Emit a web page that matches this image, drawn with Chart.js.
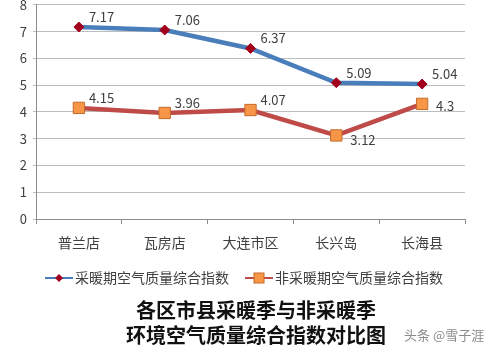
<!DOCTYPE html>
<html>
<head>
<meta charset="utf-8">
<script src="https://cdn.jsdelivr.net/npm/chart.js@4/dist/chart.umd.min.js"></script>
<style>
  html, body { margin: 0; padding: 0; background: #fff; }
  #wrap { position: relative; width: 500px; height: 352px; overflow: hidden; }
  #myChart { position: absolute; left: 0; top: -9px; }
  #mark { position: absolute; left: 404px; top: 325px; font: 13px "Noto Sans CJK SC"; color: #8a8a8a; }
</style>
</head>
<body>
<div id="wrap">
  <canvas id="myChart" width="500" height="361"></canvas>
  <div id="mark">头条 @雪子涯</div>
</div>
<script>
var categories = ['普兰店', '瓦房店', '大连市区', '长兴岛', '长海县'];
var heatingValues = [7.17, 7.06, 6.37, 5.09, 5.04];
var nonHeatingValues = [4.15, 3.96, 4.07, 3.12, 4.3];
var seriesNames = ['采暖期空气质量综合指数', '非采暖期空气质量综合指数'];
var titleLines = ['各区市县采暖季与非采暖季', '环境空气质量综合指数对比图'];

var FONT = '"Noto Sans CJK SC", "Noto Sans", sans-serif';
// where each label sits relative to its point
var labelSpots = [
	['ur', 'ur', 'ur', 'ur', 'ur'],
	['ur', 'ur', 'ur', 'dr', 'r']
];

var extras = {
	id: 'extras',
	afterDatasetsDraw: function (chart) {
		var ctx = chart.ctx;
		ctx.save();
		ctx.font = '13px ' + FONT;
		ctx.fillStyle = '#404040';
		ctx.textAlign = 'left';
		ctx.textBaseline = 'middle';
		chart.data.datasets.forEach(function (ds, di) {
			chart.getDatasetMeta(di).data.forEach(function (pt, i) {
				var spot = labelSpots[di][i];
				var dx = 10, dy = -10;
				if (spot === 'r') { dx = 14; dy = 2; }
				if (spot === 'dr') { dx = 14; dy = 5; }
				ctx.fillText(String(ds.data[i]), pt.x + dx, pt.y + dy);
			});
		});
		ctx.restore();
	},
	afterDraw: function (chart) {
		var ctx = chart.ctx;
		ctx.save();
		// legend (canvas sits 9px above the page top)
		var ly = 287;
		var items = [{ x: 45 }, { x: 245 }];
		ctx.font = '14px ' + FONT;
		ctx.textBaseline = 'middle';
		items.forEach(function (it, di) {
			var ds = chart.data.datasets[di];
			ctx.strokeStyle = ds.borderColor;
			ctx.lineWidth = 2;
			ctx.beginPath();
			ctx.moveTo(it.x, ly);
			ctx.lineTo(it.x + 28, ly);
			ctx.stroke();
			ctx.fillStyle = ds.pointBackgroundColor;
			ctx.strokeStyle = ds.pointBorderColor;
			ctx.lineWidth = 1;
			var cx = it.x + 14;
			if (di === 0) {
				ctx.beginPath();
				ctx.moveTo(cx, ly - 4); ctx.lineTo(cx + 4, ly); ctx.lineTo(cx, ly + 4); ctx.lineTo(cx - 4, ly);
				ctx.closePath(); ctx.fill();
			} else {
				ctx.fillRect(cx - 5, ly - 5, 10, 10);
				ctx.strokeRect(cx - 5, ly - 5, 10, 10);
			}
			ctx.fillStyle = '#404040';
			ctx.textAlign = 'left';
			ctx.fillText(seriesNames[di], it.x + 30, ly);
		});
		// title
		ctx.fillStyle = '#111';
		ctx.textAlign = 'center';
		ctx.font = 'bold 20px ' + FONT;
		ctx.fillText(titleLines[0], 256, 319);
		ctx.fillText(titleLines[1], 256, 344);
		ctx.restore();
	}
};

var ctx = document.getElementById('myChart').getContext('2d');
new Chart(ctx, {
	type: 'line',
	data: {
		labels: categories,
		datasets: [{
			label: seriesNames[0],
			data: heatingValues,
			borderColor: '#4a7ebb',
			borderWidth: 4.5,
			pointStyle: 'rectRot',
			pointRadius: 5,
			pointBackgroundColor: '#a3001e',
			pointBorderColor: '#a3001e',
			pointBorderWidth: 1,
			tension: 0
		}, {
			label: seriesNames[1],
			data: nonHeatingValues,
			borderColor: '#be4b48',
			borderWidth: 4.5,
			pointStyle: 'rect',
			pointRadius: 8,
			pointBackgroundColor: '#f79646',
			pointBorderColor: '#c46a2a',
			pointBorderWidth: 1,
			tension: 0
		}]
	},
	options: {
		responsive: false,
		animation: false,
		layout: { padding: { left: 0, right: 35, top: 0, bottom: 0 } },
		plugins: {
			legend: { display: false },
			tooltip: { enabled: false }
		},
		scales: {
			x: {
				offset: true,
				afterFit: function (s) { s.height = 133; },
				grid: { display: true, drawOnChartArea: false, offset: true, tickLength: 5, color: '#8c8c8c' },
				border: { color: '#8c8c8c' },
				ticks: { color: '#404040', font: { size: 14, family: FONT }, padding: 10 }
			},
			y: {
				min: 0,
				max: 8,
				afterFit: function (s) { s.width = 36; },
				ticks: { stepSize: 1, color: '#404040', font: { size: 13, family: FONT }, padding: 6 },
				grid: { color: '#bdbdbd', tickLength: 3 },
				border: { color: '#8c8c8c' }
			}
		}
	},
	plugins: [extras]
});
</script>
</body>
</html>
